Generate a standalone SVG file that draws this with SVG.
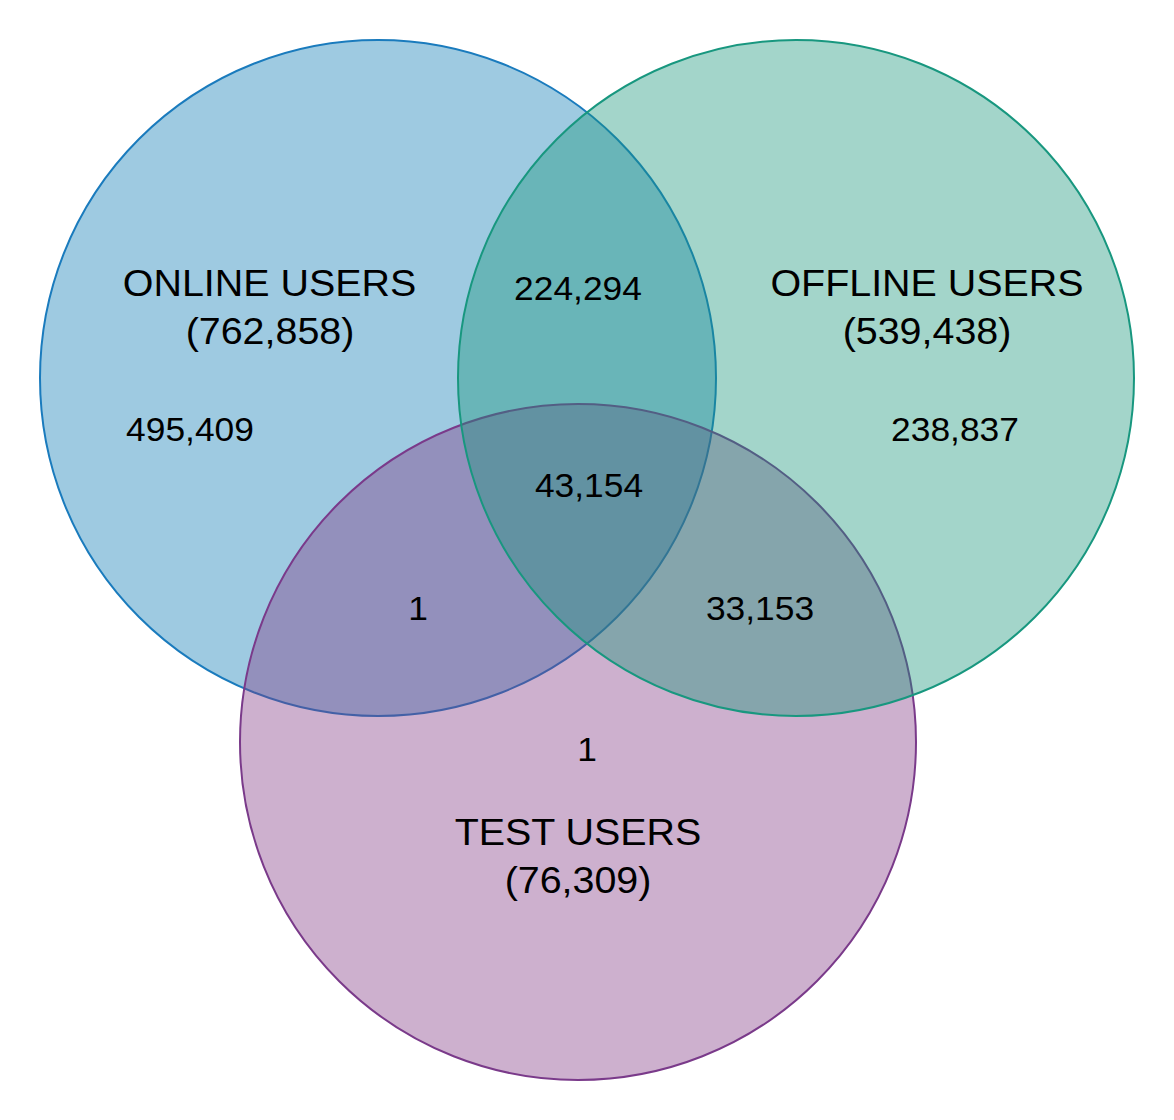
<svg xmlns="http://www.w3.org/2000/svg" width="1174" height="1120" viewBox="0 0 1174 1120">
<style>
  .set { stroke-width: 2; }
  .title { font-family: "Liberation Sans", Arial, sans-serif; font-size: 36.5px; fill: #000; text-anchor: middle; }
  .num { font-family: "Liberation Sans", Arial, sans-serif; font-size: 34px; fill: #000; text-anchor: middle; }
</style>
<rect width="1174" height="1120" fill="#ffffff"/>
<g id="online">
  <circle class="set" cx="378" cy="378" r="338" fill="rgb(13,123,180)" fill-opacity="0.4" stroke="#1a7bbd"/>
</g>
<g id="test">
  <circle class="set" cx="578" cy="742" r="338" fill="rgb(130,58,133)" fill-opacity="0.4" stroke="#7a3a8a"/>
</g>
<g id="offline">
  <circle class="set" cx="796" cy="378" r="338" fill="rgb(25,150,123)" fill-opacity="0.4" stroke="#18977f"/>
</g>
<g id="labels">
  <text class="title" transform="translate(269.5,296) scale(1.08,1)">ONLINE USERS</text>
  <text class="title" transform="translate(270,344) scale(1.08,1)">(762,858)</text>
  <text class="title" transform="translate(927,296) scale(1.08,1)">OFFLINE USERS</text>
  <text class="title" transform="translate(927,344) scale(1.08,1)">(539,438)</text>
  <text class="title" transform="translate(578,845) scale(1.08,1)">TEST USERS</text>
  <text class="title" transform="translate(578,893) scale(1.08,1)">(76,309)</text>
  <text class="num" transform="translate(190,441) scale(1.04,1)">495,409</text>
  <text class="num" transform="translate(955,441) scale(1.04,1)">238,837</text>
  <text class="num" transform="translate(578,300) scale(1.04,1)">224,294</text>
  <text class="num" transform="translate(589,497) scale(1.04,1)">43,154</text>
  <text class="num" transform="translate(418,620) scale(1.04,1)">1</text>
  <text class="num" transform="translate(760,620) scale(1.04,1)">33,153</text>
  <text class="num" transform="translate(587,761) scale(1.04,1)">1</text>
</g>
</svg>
